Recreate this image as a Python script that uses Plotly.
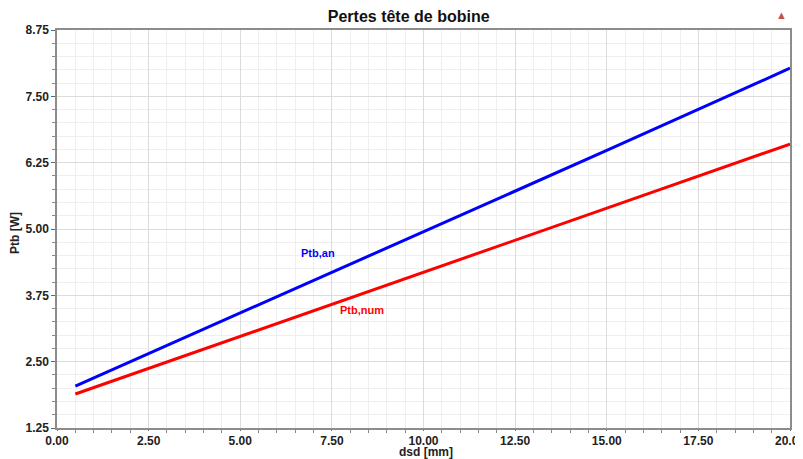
import plotly.graph_objects as go

dsd = [0.5, 5.0, 10.0, 15.0, 20.0]
ptb_an = [2.04, 3.42, 4.94, 6.48, 8.03]
ptb_num = [1.89, 2.98, 4.18, 5.39, 6.60]

title = "Pertes tête de bobine"
x_title = "dsd [mm]"
y_title = "Ptb [W]"

FONT = "Liberation Sans"

fig = go.Figure()
fig.add_trace(go.Scatter(x=dsd, y=ptb_an, mode="lines", name="Ptb,an",
                         line=dict(color="#0000ff", width=3)))
fig.add_trace(go.Scatter(x=dsd, y=ptb_num, mode="lines", name="Ptb,num",
                         line=dict(color="#ff0000", width=3)))

fig.add_annotation(x=7.12, y=4.55, text="<b>Ptb,an</b>", showarrow=False,
                   font=dict(color="#0000ff", size=11, family=FONT))
fig.add_annotation(x=8.32, y=3.47, text="<b>Ptb,num</b>", showarrow=False,
                   font=dict(color="#ff0000", size=11, family=FONT))
fig.add_annotation(xref="paper", yref="paper", x=0.989, y=1.0, yshift=16,
                   xanchor="center", yanchor="middle",
                   text="▲", showarrow=False,
                   font=dict(color="#c0504d", size=11))
# axis titles
fig.add_annotation(xref="paper", yref="paper", x=0.503, y=0, yshift=-24,
                   yanchor="middle", text=f"<b>{x_title}</b>", showarrow=False,
                   font=dict(family=FONT, size=12, color="#222222"))
fig.add_annotation(xref="paper", yref="paper", x=0, xshift=-42, y=0.49,
                   xanchor="center", yanchor="middle", textangle=-90,
                   text=f"<b>{y_title}</b>", showarrow=False,
                   font=dict(family=FONT, size=12, color="#222222"))

axis_common = dict(
    showline=True, linecolor="#8c8c8c", linewidth=1.5, mirror=True,
    ticks="outside", tickcolor="#666666",
    gridcolor="#dcdcdc", gridwidth=1,
    tickfont=dict(family=FONT, size=12, color="#222222"),
    zeroline=False, automargin=False, ticklabeloverflow="allow",
)

fig.update_xaxes(range=[0, 20], tick0=0, dtick=2.5, tickformat=".2f", ticklen=1,
                 minor=dict(dtick=0.5, ticks="outside", ticklen=3, tickcolor="#888888",
                            showgrid=True, gridcolor="#efefef"),
                 **axis_common)
fig.update_yaxes(range=[1.25, 8.75], tick0=1.25, dtick=1.25, tickformat=".2f", ticklen=4,
                 minor=dict(dtick=0.25, ticks="outside", ticklen=3, tickcolor="#888888",
                            showgrid=True, gridcolor="#efefef"),
                 **axis_common)
fig.update_xaxes(tickprefix="<b>", ticksuffix="</b>")
fig.update_yaxes(tickprefix="<b>", ticksuffix="</b>")

# the page adds an 8px body margin, so the figure is sized/margined to compensate
fig.update_layout(
    width=795, height=451,
    margin=dict(l=49, r=13, t=22, b=31),
    paper_bgcolor="white", plot_bgcolor="white",
    showlegend=False,
    title=dict(text=f"<b>{title}</b>", x=0.504, xanchor="center", y=0.982, yanchor="middle",
               font=dict(family=FONT, size=16, color="#111111")),
)

fig.write_html("out.html")
